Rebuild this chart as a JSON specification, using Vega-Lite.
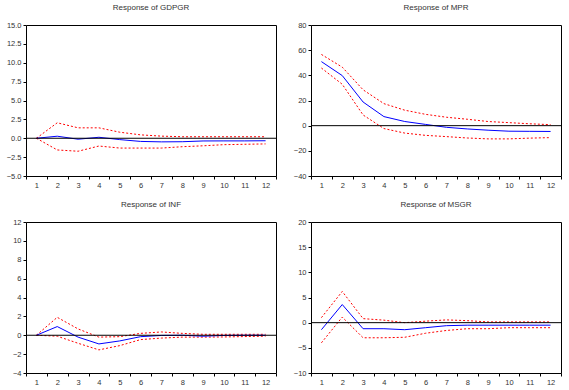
{
  "$schema": "https://vega.github.io/schema/vega-lite/v6.json",
  "background": "white",
  "padding": {"left": 5, "top": 3, "right": 5, "bottom": 2},
  "bounds": "flush",
  "spacing": {"row": 46, "column": 35},
  "columns": 2,
  "config": {
    "view": {"stroke": "black", "strokeWidth": 1},
    "font": "Liberation Sans",
    "title": {"fontSize": 8, "fontWeight": "normal", "color": "#333333", "offset": 9, "font": "Liberation Sans"},
    "axis": {"labelFont": "Liberation Sans", "labelFontSize": 7.5, "labelColor": "#333333", "tickColor": "black", "tickSize": 3, "domain": false, "grid": false, "title": null, "labelPadding": 2, "labelOverlap": false},
    "line": {"strokeWidth": 1}
  },
  "datasets": {
    "gdpgr": [
      {"t": 1, "r": 0, "u": 0, "l": 0},
      {"t": 2, "r": 0.27, "u": 2.05, "l": -1.55},
      {"t": 3, "r": -0.13, "u": 1.38, "l": -1.72},
      {"t": 4, "r": 0.13, "u": 1.38, "l": -1.03},
      {"t": 5, "r": -0.18, "u": 0.8, "l": -1.3},
      {"t": 6, "r": -0.42, "u": 0.45, "l": -1.3},
      {"t": 7, "r": -0.48, "u": 0.28, "l": -1.3},
      {"t": 8, "r": -0.46, "u": 0.2, "l": -1.12},
      {"t": 9, "r": -0.36, "u": 0.2, "l": -1.0},
      {"t": 10, "r": -0.35, "u": 0.2, "l": -0.85},
      {"t": 11, "r": -0.35, "u": 0.2, "l": -0.8},
      {"t": 12, "r": -0.33, "u": 0.2, "l": -0.75}
    ],
    "mpr": [
      {"t": 1, "r": 50.9, "u": 56.6, "l": 45.8},
      {"t": 2, "r": 39.8, "u": 46.5, "l": 32.9},
      {"t": 3, "r": 18.8, "u": 28.5, "l": 8.5},
      {"t": 4, "r": 7.2, "u": 17.5, "l": -2.3},
      {"t": 5, "r": 3.3, "u": 12.3, "l": -5.9},
      {"t": 6, "r": 1.0, "u": 9.0, "l": -7.7},
      {"t": 7, "r": -1.3, "u": 6.7, "l": -8.7},
      {"t": 8, "r": -2.6, "u": 5.1, "l": -9.8},
      {"t": 9, "r": -3.6, "u": 3.3, "l": -10.5},
      {"t": 10, "r": -4.4, "u": 2.4, "l": -10.5},
      {"t": 11, "r": -4.5, "u": 1.5, "l": -9.9},
      {"t": 12, "r": -4.6, "u": 0.8, "l": -9.5}
    ],
    "inf": [
      {"t": 1, "r": 0, "u": 0, "l": 0},
      {"t": 2, "r": 0.92, "u": 1.9, "l": -0.1},
      {"t": 3, "r": -0.2, "u": 0.67, "l": -0.85},
      {"t": 4, "r": -0.92, "u": -0.2, "l": -1.55},
      {"t": 5, "r": -0.6, "u": -0.15, "l": -1.1},
      {"t": 6, "r": -0.15, "u": 0.2, "l": -0.46},
      {"t": 7, "r": -0.02, "u": 0.35, "l": -0.3},
      {"t": 8, "r": 0.0, "u": 0.2, "l": -0.2},
      {"t": 9, "r": -0.1, "u": 0.1, "l": -0.2},
      {"t": 10, "r": -0.02, "u": 0.1, "l": -0.18},
      {"t": 11, "r": 0.0, "u": 0.1, "l": -0.14},
      {"t": 12, "r": 0.0, "u": 0.1, "l": -0.1}
    ],
    "msgr": [
      {"t": 1, "r": -1.4, "u": 1.0, "l": -4.0},
      {"t": 2, "r": 3.6, "u": 6.2, "l": 1.1},
      {"t": 3, "r": -1.2, "u": 0.8, "l": -3.0},
      {"t": 4, "r": -1.2, "u": 0.5, "l": -3.0},
      {"t": 5, "r": -1.4, "u": 0.0, "l": -2.9},
      {"t": 6, "r": -1.0, "u": 0.3, "l": -2.1},
      {"t": 7, "r": -0.6, "u": 0.55, "l": -1.55},
      {"t": 8, "r": -0.5, "u": 0.4, "l": -1.2},
      {"t": 9, "r": -0.5, "u": 0.15, "l": -1.2},
      {"t": 10, "r": -0.5, "u": 0.15, "l": -1.0},
      {"t": 11, "r": -0.5, "u": 0.15, "l": -1.0},
      {"t": 12, "r": -0.5, "u": 0.15, "l": -1.0}
    ]
  },
  "concat": [
    {
      "title": "Response of GDPGR",
      "width": 250, "height": 151,
      "layer": [
        {"data": {"name": "gdpgr"}, "mark": {"type": "line", "color": "red", "strokeDash": [2, 2]}, "encoding": {"x": {"field": "t", "type": "ordinal", "scale": {"type": "band", "paddingInner": 0, "paddingOuter": 0}, "axis": {"labelAngle": 0, "tickBand": "extent"}}, "y": {"field": "u", "type": "quantitative", "scale": {"domain": [-5, 15], "nice": false, "zero": false}, "axis": {"values": [-5, -2.5, 0, 2.5, 5, 7.5, 10, 12.5, 15], "tickCount": 30, "format": ".1f", "labelOverlap": false}}}},
        {"data": {"name": "gdpgr"}, "mark": {"type": "line", "color": "red", "strokeDash": [2, 2]}, "encoding": {"x": {"field": "t", "type": "ordinal"}, "y": {"field": "l", "type": "quantitative"}}},
        {"data": {"name": "gdpgr"}, "mark": {"type": "line", "color": "blue"}, "encoding": {"x": {"field": "t", "type": "ordinal"}, "y": {"field": "r", "type": "quantitative"}}},
        {"data": {"values": [{}]}, "mark": {"type": "rule", "color": "black", "strokeWidth": 1}, "encoding": {"y": {"datum": 0, "type": "quantitative"}}}
      ]
    },
    {
      "title": "Response of MPR",
      "width": 250, "height": 151,
      "layer": [
        {"data": {"name": "mpr"}, "mark": {"type": "line", "color": "red", "strokeDash": [2, 2]}, "encoding": {"x": {"field": "t", "type": "ordinal", "scale": {"type": "band", "paddingInner": 0, "paddingOuter": 0}, "axis": {"labelAngle": 0, "tickBand": "extent"}}, "y": {"field": "u", "type": "quantitative", "scale": {"domain": [-40, 80], "nice": false, "zero": false}, "axis": {"values": [-40, -20, 0, 20, 40, 60, 80], "tickCount": 30, "format": "d", "labelOverlap": false}}}},
        {"data": {"name": "mpr"}, "mark": {"type": "line", "color": "red", "strokeDash": [2, 2]}, "encoding": {"x": {"field": "t", "type": "ordinal"}, "y": {"field": "l", "type": "quantitative"}}},
        {"data": {"name": "mpr"}, "mark": {"type": "line", "color": "blue"}, "encoding": {"x": {"field": "t", "type": "ordinal"}, "y": {"field": "r", "type": "quantitative"}}},
        {"data": {"values": [{}]}, "mark": {"type": "rule", "color": "black", "strokeWidth": 1}, "encoding": {"y": {"datum": 0, "type": "quantitative"}}}
      ]
    },
    {
      "title": "Response of INF",
      "width": 250, "height": 151,
      "layer": [
        {"data": {"name": "inf"}, "mark": {"type": "line", "color": "red", "strokeDash": [2, 2]}, "encoding": {"x": {"field": "t", "type": "ordinal", "scale": {"type": "band", "paddingInner": 0, "paddingOuter": 0}, "axis": {"labelAngle": 0, "tickBand": "extent"}}, "y": {"field": "u", "type": "quantitative", "scale": {"domain": [-4, 12], "nice": false, "zero": false}, "axis": {"values": [-4, -2, 0, 2, 4, 6, 8, 10, 12], "tickCount": 30, "format": "d", "labelOverlap": false}}}},
        {"data": {"name": "inf"}, "mark": {"type": "line", "color": "red", "strokeDash": [2, 2]}, "encoding": {"x": {"field": "t", "type": "ordinal"}, "y": {"field": "l", "type": "quantitative"}}},
        {"data": {"name": "inf"}, "mark": {"type": "line", "color": "blue"}, "encoding": {"x": {"field": "t", "type": "ordinal"}, "y": {"field": "r", "type": "quantitative"}}},
        {"data": {"values": [{}]}, "mark": {"type": "rule", "color": "black", "strokeWidth": 1}, "encoding": {"y": {"datum": 0, "type": "quantitative"}}}
      ]
    },
    {
      "title": "Response of MSGR",
      "width": 250, "height": 151,
      "layer": [
        {"data": {"name": "msgr"}, "mark": {"type": "line", "color": "red", "strokeDash": [2, 2]}, "encoding": {"x": {"field": "t", "type": "ordinal", "scale": {"type": "band", "paddingInner": 0, "paddingOuter": 0}, "axis": {"labelAngle": 0, "tickBand": "extent"}}, "y": {"field": "u", "type": "quantitative", "scale": {"domain": [-10, 20], "nice": false, "zero": false}, "axis": {"values": [-10, -5, 0, 5, 10, 15, 20], "tickCount": 30, "format": "d", "labelOverlap": false}}}},
        {"data": {"name": "msgr"}, "mark": {"type": "line", "color": "red", "strokeDash": [2, 2]}, "encoding": {"x": {"field": "t", "type": "ordinal"}, "y": {"field": "l", "type": "quantitative"}}},
        {"data": {"name": "msgr"}, "mark": {"type": "line", "color": "blue"}, "encoding": {"x": {"field": "t", "type": "ordinal"}, "y": {"field": "r", "type": "quantitative"}}},
        {"data": {"values": [{}]}, "mark": {"type": "rule", "color": "black", "strokeWidth": 1}, "encoding": {"y": {"datum": 0, "type": "quantitative"}}}
      ]
    }
  ]
}
